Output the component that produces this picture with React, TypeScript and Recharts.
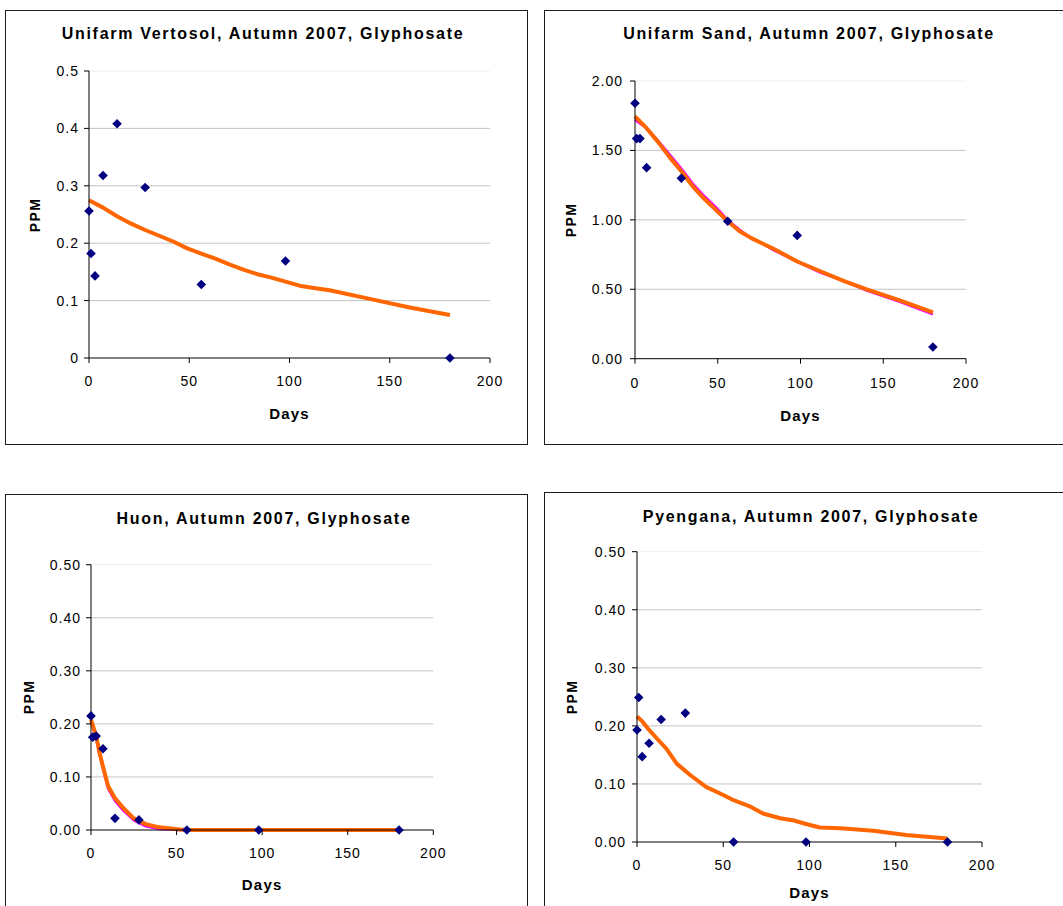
import {
  ComposedChart,
  Line,
  Scatter,
  XAxis,
  YAxis,
  CartesianGrid,
  ReferenceLine,
} from "recharts";

// Sampling days after spraying
const sampleDays = [0, 1, 3, 7, 14, 28, 56, 98, 180];
const sandSampleDays = [0, 1, 3, 7, 28, 56, 98, 180];

// Measured glyphosate residues (PPM)
const vertosolPpm = [0.256, 0.182, 0.143, 0.318, 0.408, 0.297, 0.128, 0.169, 0];
const sandPpm = [1.84, 1.585, 1.585, 1.376, 1.3, 0.99, 0.888, 0.084];
const huonPpm = [0.215, 0.175, 0.177, 0.153, 0.022, 0.019, 0, 0, 0];
const pyenganaPpm = [0.193, 0.249, 0.147, 0.17, 0.211, 0.222, 0, 0, 0];

// Fitted decay curves
const vertosolFitDays = [0, 7, 14, 21, 28, 35, 42, 49, 56, 63, 70, 77, 84, 91, 98, 105, 112, 120, 140, 160, 180];
const vertosolFit = [0.275, 0.262, 0.247, 0.234, 0.223, 0.213, 0.203, 0.191, 0.182, 0.173, 0.163, 0.154, 0.146, 0.14, 0.133, 0.126, 0.122, 0.118, 0.103, 0.088, 0.075];

const sandFitDays = [0, 7, 14, 21, 28, 35, 42, 49, 56, 63, 70, 77, 84, 98, 112, 126, 140, 160, 180];
const sandFitA = [1.72, 1.66, 1.57, 1.47, 1.37, 1.26, 1.17, 1.09, 1.0, 0.93, 0.87, 0.83, 0.78, 0.7, 0.62, 0.56, 0.49, 0.41, 0.32];
const sandFitB = [1.745, 1.66, 1.56, 1.45, 1.35, 1.24, 1.15, 1.07, 0.99, 0.92, 0.87, 0.83, 0.79, 0.7, 0.63, 0.56, 0.5, 0.42, 0.333];

const huonFitDays = [0, 3, 5, 8, 10, 14, 19, 25, 32, 40, 52, 56, 98, 180];
const huonFitA = [0.205, 0.175, 0.142, 0.103, 0.078, 0.055, 0.036, 0.018, 0.007, 0.002, 0, 0, 0, 0];
const huonFitB = [0.208, 0.178, 0.145, 0.107, 0.083, 0.06, 0.041, 0.022, 0.011, 0.005, 0.001, 0, 0, 0];

const pyenganaFitDays = [0, 3, 7, 11, 17, 23, 31, 40, 50, 56, 65, 73, 83, 91, 98, 106, 118, 137, 156, 180];
const pyenganaFit = [0.216, 0.208, 0.193, 0.18, 0.161, 0.135, 0.115, 0.095, 0.081, 0.072, 0.062, 0.049, 0.041, 0.037, 0.031, 0.025, 0.0235, 0.0195, 0.012, 0.006];

// Axis ticks
const dayTicks = [0, 50, 100, 150, 200];
const ppmTicks = [0, 0.1, 0.2, 0.3, 0.4, 0.5];
const sandTicks = [0, 0.5, 1, 1.5, 2];

const pairs = (days: number[], ppm: number[]) =>
  days.map((day, i) => ({ day, ppm: ppm[i] }));

const ORANGE = "#ff6600";
const MAGENTA = "#ff00ff";
const NAVY = "#000080";
const FONT = "'Liberation Sans', Arial, sans-serif";

const Diamond = (props: any) => {
  const { cx, cy } = props;
  if (cx == null || cy == null) return null;
  const r = 4.8;
  return (
    <path
      d={`M${cx},${cy - r}L${cx + r},${cy}L${cx},${cy + r}L${cx - r},${cy}Z`}
      fill={NAVY}
    />
  );
};

type Pt = { day: number; ppm: number };
type Curve = { data: Pt[]; color: string; width: number };

type PanelProps = {
  title: string;
  box: [number, number, number, number];
  plot: [number, number, number, number];
  titleAt: [number, number];
  daysY: number;
  ppmX: number;
  yTicks: number[];
  yFormat: (v: number) => string;
  yTickMargin: number;
  xTickMargin: number;
  points: Pt[];
  curves: Curve[];
};

function DecayPanel(p: PanelProps) {
  const [bx, by, bw, bh] = p.box;
  const [pl, pt, pr, pb] = p.plot;
  const yMax = p.yTicks[p.yTicks.length - 1];
  const axisStroke = { stroke: "#000" };
  const tickStyle = { fill: "#000", fontSize: 14, fontFamily: FONT };

  return (
    <>
      <div
        style={{
          position: "absolute",
          left: bx,
          top: by,
          width: bw,
          height: bh,
          border: "1px solid #1c1c1c",
          boxSizing: "border-box",
        }}
      />
      <div style={{ position: "absolute", left: bx, top: by }}>
        <ComposedChart
          width={bw}
          height={bh}
          margin={{ top: pt - by, right: bx + bw - pr, bottom: 0, left: 0 }}
        >
          <CartesianGrid
            vertical={false}
            horizontalValues={p.yTicks.slice(1, -1)}
            stroke="#c4c4c4"
          />
          <ReferenceLine y={yMax} stroke="#eeeeee" />
          <XAxis
            type="number"
            dataKey="day"
            domain={[0, 200]}
            ticks={dayTicks}
            interval={0}
            height={by + bh - pb}
            tickSize={5}
            tickMargin={p.xTickMargin}
            axisLine={axisStroke}
            tickLine={axisStroke}
            tick={tickStyle}
          />
          <YAxis
            type="number"
            dataKey="ppm"
            domain={[0, yMax]}
            ticks={p.yTicks}
            interval={0}
            tickFormatter={p.yFormat}
            width={pl - bx}
            tickSize={5}
            tickMargin={p.yTickMargin}
            axisLine={axisStroke}
            tickLine={axisStroke}
            tick={tickStyle}
          />
          {p.curves.map((c, i) => (
            <Line
              key={i}
              data={c.data}
              dataKey="ppm"
              type="linear"
              stroke={c.color}
              strokeWidth={c.width}
              strokeLinejoin="round"
              dot={false}
              activeDot={false}
              isAnimationActive={false}
            />
          ))}
          <Scatter data={p.points} dataKey="ppm" shape={Diamond} isAnimationActive={false} />
        </ComposedChart>
      </div>
      <div
        style={{
          position: "absolute",
          left: p.titleAt[0],
          top: p.titleAt[1],
          transform: "translate(-50%, -50%)",
          whiteSpace: "nowrap",
          fontWeight: "bold",
          fontSize: 16,
          letterSpacing: 1.7,
        }}
      >
        {p.title}
      </div>
      <div
        style={{
          position: "absolute",
          left: (pl + pr) / 2,
          top: p.daysY,
          transform: "translate(-50%, -50%)",
          fontWeight: "bold",
          fontSize: 15,
          letterSpacing: 1.2,
        }}
      >
        Days
      </div>
      <div
        style={{
          position: "absolute",
          left: p.ppmX,
          top: (pt + pb) / 2,
          transform: "translate(-50%, -50%) rotate(-90deg)",
          fontWeight: "bold",
          fontSize: 14,
          letterSpacing: 1.3,
        }}
      >
        PPM
      </div>
    </>
  );
}

const oneDecimal = (v: number) => (v === 0 ? "0" : String(v));
const twoDecimals = (v: number) => v.toFixed(2);

export default function App() {
  return (
    <div
      style={{
        position: "fixed",
        left: 0,
        top: 0,
        width: 1063,
        height: 906,
        overflow: "hidden",
        background: "#fff",
        fontFamily: FONT,
        color: "#000",
      }}
    >
      <style>{`.recharts-cartesian-axis-tick-value { letter-spacing: 1px; }`}</style>
      <DecayPanel
        title="Unifarm Vertosol, Autumn 2007, Glyphosate"
        box={[5, 10, 523, 435]}
        plot={[89, 71, 490, 358]}
        titleAt={[263, 34]}
        daysY={413}
        ppmX={35}
        yTicks={ppmTicks}
        yFormat={oneDecimal}
        yTickMargin={5}
        xTickMargin={13}
        points={pairs(sampleDays, vertosolPpm)}
        curves={[{ data: pairs(vertosolFitDays, vertosolFit), color: ORANGE, width: 4 }]}
      />
      <DecayPanel
        title="Unifarm Sand, Autumn 2007, Glyphosate"
        box={[544, 10, 530, 435]}
        plot={[635, 81, 966, 358.7]}
        titleAt={[809, 34]}
        daysY={415}
        ppmX={571}
        yTicks={sandTicks}
        yFormat={twoDecimals}
        yTickMargin={7}
        xTickMargin={14}
        points={pairs(sandSampleDays, sandPpm)}
        curves={[
          { data: pairs(sandFitDays, sandFitA), color: MAGENTA, width: 2.5 },
          { data: pairs(sandFitDays, sandFitB), color: ORANGE, width: 4 },
        ]}
      />
      <DecayPanel
        title="Huon, Autumn 2007, Glyphosate"
        box={[5, 494, 523, 440]}
        plot={[91, 564.7, 433.3, 830]}
        titleAt={[264, 519]}
        daysY={884}
        ppmX={28.5}
        yTicks={ppmTicks}
        yFormat={twoDecimals}
        yTickMargin={5}
        xTickMargin={13}
        points={pairs(sampleDays, huonPpm)}
        curves={[
          { data: pairs(huonFitDays, huonFitA), color: MAGENTA, width: 2.5 },
          { data: pairs(huonFitDays, huonFitB), color: ORANGE, width: 4 },
        ]}
      />
      <DecayPanel
        title="Pyengana, Autumn 2007, Glyphosate"
        box={[544, 492, 530, 440]}
        plot={[637, 551.7, 982, 842]}
        titleAt={[811, 517]}
        daysY={892}
        ppmX={572}
        yTicks={ppmTicks}
        yFormat={twoDecimals}
        yTickMargin={6}
        xTickMargin={13}
        points={pairs(sampleDays, pyenganaPpm)}
        curves={[{ data: pairs(pyenganaFitDays, pyenganaFit), color: ORANGE, width: 4 }]}
      />
    </div>
  );
}
